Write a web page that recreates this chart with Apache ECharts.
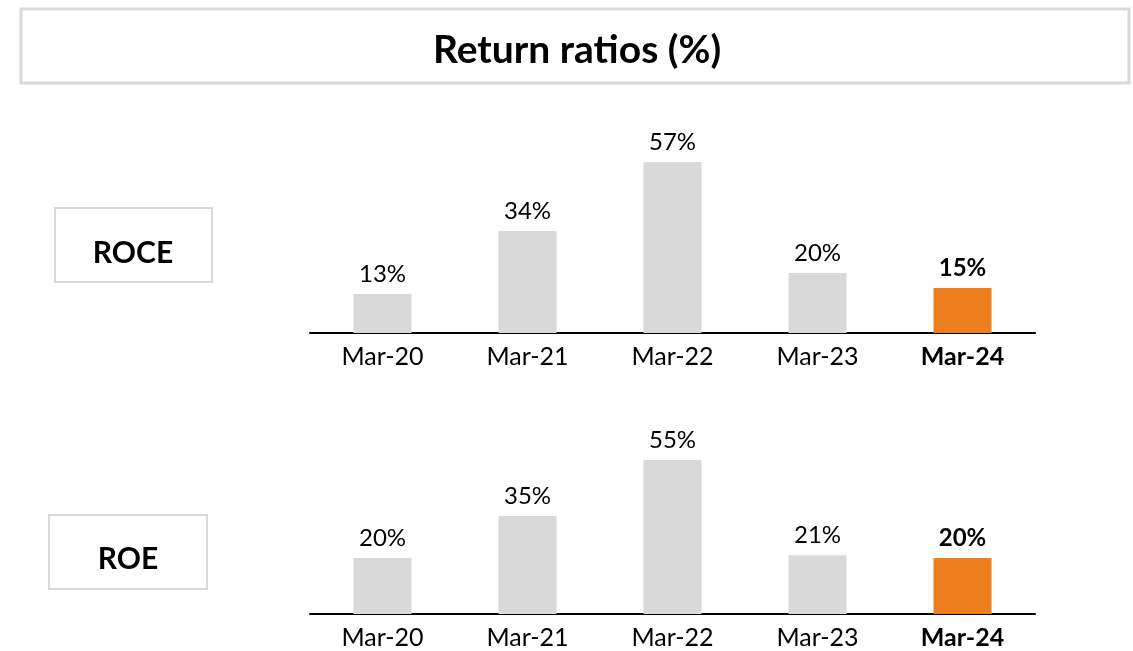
<!DOCTYPE html>
<html>
<head>
<meta charset="utf-8">
<script src="https://cdn.jsdelivr.net/npm/echarts@6/dist/echarts.min.js"></script>
<style>
  html, body { margin: 0; padding: 0; background: #fff; }
  #main { width: 1133px; height: 651px; }
</style>
</head>
<body>
<div id="main"></div>
<script>
// data
var categories = ['Mar-20', 'Mar-21', 'Mar-22', 'Mar-23', 'Mar-24'];
var roce = [13, 34, 57, 20, 15];
var roe = [20, 35, 55, 21, 20];
var highlight = 'Mar-24';

var FONT = 'Lato';
var GREY = '#d9d9d9';
var ORANGE = '#ee7f1f';

function barData(values) {
    return values.map(function (v, i) {
        var hot = categories[i] === highlight;
        return {
            value: v,
            itemStyle: { color: hot ? ORANGE : GREY },
            label: { fontWeight: hot ? 'bold' : 'normal' }
        };
    });
}

function catData() {
    return categories.map(function (c) {
        return { value: c, textStyle: { fontWeight: c === highlight ? 'bold' : 'normal' } };
    });
}

function xAxisFor(idx) {
    return {
        type: 'category',
        gridIndex: idx,
        data: catData(),
        axisLine: { lineStyle: { color: '#000', width: 2 } },
        axisTick: { show: false },
        axisLabel: { color: '#000', fontFamily: FONT, fontSize: 25, margin: 11 }
    };
}

function yAxisFor(idx) {
    return {
        type: 'value', gridIndex: idx, min: 0, max: 60,
        show: false, splitLine: { show: false }
    };
}

function seriesFor(idx, values) {
    return {
        type: 'bar',
        xAxisIndex: idx,
        yAxisIndex: idx,
        barWidth: 58,
        data: barData(values),
        label: {
            show: true, position: 'top', distance: 8,
            formatter: '{c}%', color: '#000', fontFamily: FONT, fontSize: 24
        }
    };
}

var chart = echarts.init(document.getElementById('main'));

var option = {
    animation: false,
    backgroundColor: '#fff',
    grid: [
        { left: 310, width: 725, top: 153, height: 180 },
        { left: 310, width: 725, top: 446, height: 168 }
    ],
    xAxis: [xAxisFor(0), xAxisFor(1)],
    yAxis: [yAxisFor(0), yAxisFor(1)],
    series: [seriesFor(0, roce), seriesFor(1, roe)],
    graphic: [
        {
            type: 'rect',
            shape: { x: 21, y: 9, width: 1108, height: 74 },
            style: { fill: '#fff', stroke: '#d9d9d9', lineWidth: 3 }
        },
        {
            type: 'text', x: 577, y: 50,
            style: {
                text: 'Return ratios (%)', fill: '#000',
                font: 'bold 39px Lato', align: 'center', verticalAlign: 'middle'
            }
        },
        {
            type: 'rect',
            shape: { x: 55, y: 208, width: 157, height: 74 },
            style: { fill: '#fff', stroke: '#d9d9d9', lineWidth: 2 }
        },
        {
            type: 'text', x: 133, y: 253,
            style: {
                text: 'ROCE', fill: '#000',
                font: 'bold 30px Lato', align: 'center', verticalAlign: 'middle'
            }
        },
        {
            type: 'rect',
            shape: { x: 49, y: 515, width: 158, height: 74 },
            style: { fill: '#fff', stroke: '#d9d9d9', lineWidth: 2 }
        },
        {
            type: 'text', x: 128, y: 559,
            style: {
                text: 'ROE', fill: '#000',
                font: 'bold 30px Lato', align: 'center', verticalAlign: 'middle'
            }
        }
    ]
};

chart.setOption(option);
</script>
</body>
</html>
